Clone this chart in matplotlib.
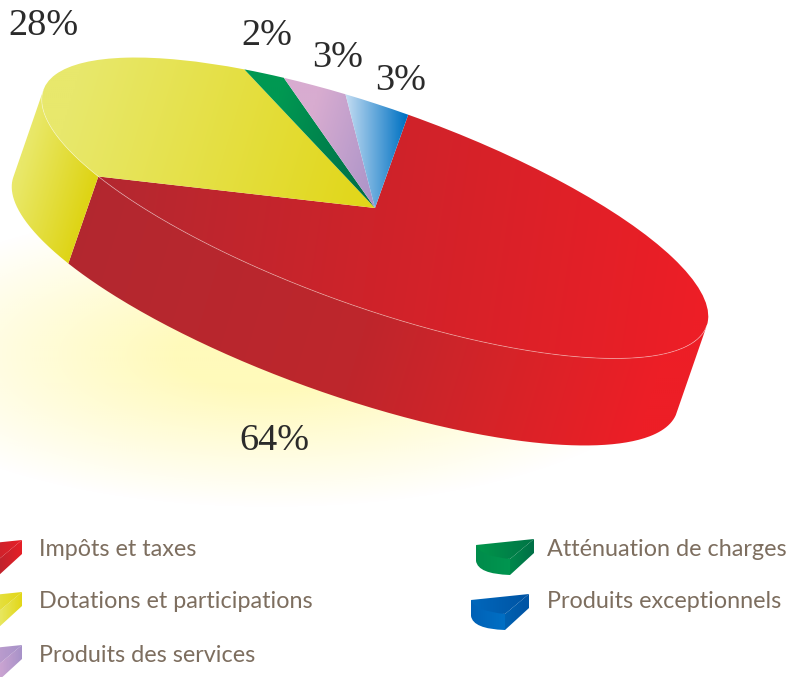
import numpy as np
import matplotlib
matplotlib.use('Agg')
import matplotlib.pyplot as plt
from matplotlib.path import Path
from matplotlib.patches import PathPatch
from matplotlib.transforms import Affine2D

labels = ["Impôts et taxes", "Dotations et participations", "Atténuation de charges",
          "Produits des services", "Produits exceptionnels"]
values = [64, 28, 2, 3, 3]
pct_labels = ["64%", "28%", "2%", "3%", "3%"]
pct_pos = [(274, 441), (43, 26), (267, 36), (338, 58), (401, 81)]

# gradient stops (x position, colour) for top faces
top_grad = [
    [(100, (180, 40, 48)), (375, (206, 35, 42)), (708, (237, 30, 38))],
    [(38, (232, 232, 108)), (375, (225, 214, 22))],
    [(245, (0, 152, 82)), (375, (0, 105, 70))],
    [(283, (216, 172, 208)), (375, (168, 146, 200))],
    [(345, (195, 220, 242)), (405, (0, 114, 195))],
]
top_tilt = [0.15, 0.3, 0.3, 0.3, 0]
side_grad = [
    [(67, (178, 40, 48)), (400, (190, 38, 44)), (560, (215, 35, 40)), (705, (237, 30, 38))],
    [(8, (233, 232, 105)), (85, (222, 212, 20))],
]

cx, cy = 375, 208
a, b = 352, 99
phi = np.radians(19.6)
depth = np.array([-30, 87])

fig = plt.figure(figsize=(7.92, 6.77), dpi=100)
ax = fig.add_axes([0, 0, 1, 1])

# unit circle -> pixel position of the tilted disc
m = np.array([[a*np.cos(phi), b*np.sin(phi), cx],
              [a*np.sin(phi), -b*np.cos(phi), cy],
              [0, 0, 1]])
disc = Affine2D(m)

# angle where the rim is parallel to the extrusion (right hand side)
nx, ny = depth[1], -depth[0]
tang = np.degrees(np.arctan2(nx*m[0, 1] + ny*m[1, 1], nx*m[0, 0] + ny*m[1, 0]))


def arc(t1, t2, n=200):
    t = np.radians(np.linspace(t1, t2, n))
    return disc.transform(np.column_stack([np.cos(t), np.sin(t)]))


def front_part(t1, t2):
    # only the part of the rim facing the viewer
    for k in (-360, 0, 360):
        lo, hi = max(t1, tang - 180 + k), min(t2, tang + k)
        if hi > lo:
            return lo, hi


def shade(path, stops, z, tilt=0.3):
    # linear gradient clipped to a path, slanted a little
    yy, xx = np.mgrid[0:677:2, 0:792:2]
    pos = xx + tilt*(yy - cy)
    xs = [s[0] for s in stops]
    rgb = np.dstack([np.interp(pos, xs, [s[1][k] for s in stops]) for k in range(3)]) / 255
    im = ax.imshow(rgb, extent=(0, 792, 677, 0), aspect='auto', zorder=z, interpolation='bilinear')
    clip = PathPatch(path, transform=ax.transData, fc='none', ec='none')
    ax.add_patch(clip)
    im.set_clip_path(clip)


wedges, _ = ax.pie(values, startangle=90, counterclock=False, radius=1, wedgeprops=dict(lw=0))
ax.set_aspect('auto')

# pale glow on the ground
yy, xx = np.mgrid[0:677:2, 0:792:2]
r = np.sqrt(((xx - 270)/410)**2 + ((yy - 355)/152)**2)
glow = np.zeros(r.shape + (4,))
glow[..., :3] = np.array([255, 249, 170]) / 255
glow[..., 3] = np.clip(1.3 - 1.3*r, 0, 1)**1.0 * 0.8
ax.imshow(glow, extent=(0, 792, 677, 0), aspect='auto', zorder=0, interpolation='bilinear')

# sides
for w, stops in zip(wedges[:2], side_grad):
    lo, hi = front_part(w.theta1, w.theta2)
    top = arc(lo, hi)
    low = top + depth
    pts = np.vstack([top, low[::-1], top[:1]])
    shade(Path(pts), stops, 1)

# top faces
for i, (w, stops) in enumerate(zip(wedges, top_grad)):
    p = w.get_path().transformed(disc)
    w.set_visible(False)
    shade(p, stops, 2 + i*0.1, tilt=top_tilt[i])

# thin light edge between top and side
for w in wedges[:2]:
    lo, hi = front_part(w.theta1, w.theta2)
    e = arc(lo, hi)
    ax.plot(e[:, 0], e[:, 1], color='white', lw=0.6, alpha=0.4, zorder=3)

for txt, (x, y) in zip(pct_labels, pct_pos):
    ax.text(x, y, txt, family='Liberation Serif', fontsize=27.5, color='#2b2b2b',
            ha='center', va='center', zorder=5)


# small wedge used in the key, drawn at its own place then shifted
def swatch(dx, dy, top_c, side_c, wall_c):
    M, C, L, Z = Path.MOVETO, Path.CURVE3, Path.LINETO, Path.CLOSEPOLY
    top = [(476, 545), (534, 539), (510, 559), (480, 556), (476, 545), (476, 545)]
    top_codes = [M, L, L, C, C, Z]
    side = [(476, 545), (510, 559), (510, 575), (478, 574), (476, 561), (476, 545)]
    side_codes = [M, L, L, C, C, Z]
    wall = [(510, 559), (534, 539), (534, 553), (510, 575), (510, 559)]
    wall_codes = [M, L, L, L, Z]
    for verts, codes, stops, z in ((side, side_codes, side_c, 3), (wall, wall_codes, wall_c, 3.1),
                                   (top, top_codes, top_c, 3.2)):
        p = Path(np.array(verts, float) + (dx, dy), codes)
        shade(p, [(s[0] + dx, s[1]) for s in stops], z, tilt=0)


swatch(-512, 1, [(476, (170, 40, 50)), (534, (232, 30, 38))],
       [(476, (160, 40, 50)), (510, (190, 35, 45))],
       [(510, (190, 35, 45)), (534, (232, 30, 38))])
swatch(-512, 53, [(490, (232, 232, 100)), (534, (226, 214, 20))],
       [(476, (238, 236, 120)), (510, (232, 232, 100))],
       [(510, (232, 232, 100)), (534, (226, 214, 20))])
swatch(-512, 106, [(490, (205, 165, 210)), (534, (165, 145, 200))],
       [(476, (225, 180, 210)), (510, (205, 165, 210))],
       [(510, (205, 165, 210)), (534, (165, 145, 200))])
swatch(0, 0, [(476, (0, 150, 75)), (534, (0, 115, 70))],
       [(476, (0, 140, 75)), (510, (0, 150, 80))],
       [(510, (0, 135, 75)), (534, (0, 110, 70))])
swatch(-5, 55, [(471, (0, 105, 190)), (529, (0, 85, 165))],
       [(471, (0, 95, 180)), (505, (0, 110, 195))],
       [(505, (0, 100, 180)), (529, (0, 85, 165))])

key_pos = [(39, 549), (39, 601), (547, 549), (39, 655), (547, 601)]
for txt, (x, y) in zip(labels, key_pos):
    ax.text(x, y, txt, family='Lato', fontsize=16.8, color='#7d6e5f', ha='left', va='center', zorder=5)

ax.set_xlim(0, 792)
ax.set_ylim(677, 0)
ax.axis('off')

plt.savefig('out.png', dpi=100)
